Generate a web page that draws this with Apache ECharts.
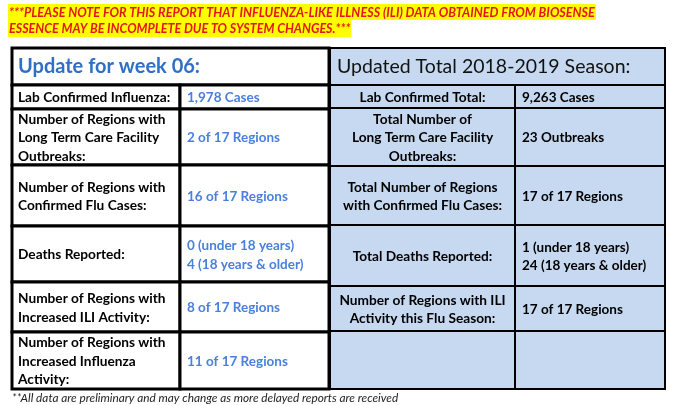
<!DOCTYPE html>
<html>
<head>
<meta charset="UTF-8"/>
<script src="https://cdn.jsdelivr.net/npm/echarts@6/dist/echarts.min.js"></script>
<style>
    html, body {margin: 0; padding: 0; background: #fff}
    #main {width: 676px; height: 405px}
</style>
</head>
<body>
<div id="main"></div>
<script>
    // texts / values
    var noteLines = [
        '***PLEASE NOTE FOR THIS REPORT THAT INFLUENZA-LIKE ILLNESS (ILI) DATA OBTAINED FROM BIOSENSE',
        'ESSENCE MAY BE INCOMPLETE DUE TO SYSTEM CHANGES.***'
    ]
    var footNote = '**All data are preliminary and may change as more delayed reports are received'

    var weekTitle = 'Update for week 06:'
    var weekLabels = [
        'Lab Confirmed Influenza:',
        'Number of Regions with\nLong Term Care Facility\nOutbreaks:',
        'Number of Regions with\nConfirmed Flu Cases:',
        'Deaths Reported:',
        'Number of Regions with\nIncreased ILI Activity:',
        'Number of Regions with\nIncreased Influenza\nActivity:'
    ]
    var weekValues = [
        '1,978 Cases',
        '2 of 17 Regions',
        '16 of 17 Regions',
        '0 (under 18 years)\n4 (18 years & older)',
        '8 of 17 Regions',
        '11 of 17 Regions'
    ]

    var seasonTitle = 'Updated Total 2018-2019 Season:'
    var seasonLabels = [
        'Lab Confirmed Total:',
        'Total Number of\nLong Term Care Facility\nOutbreaks:',
        'Total Number of Regions\nwith Confirmed Flu Cases:',
        'Total Deaths Reported:',
        'Number of Regions with ILI\nActivity this Flu Season:',
        ''
    ]
    var seasonValues = [
        '9,263 Cases',
        '23 Outbreaks',
        '17 of 17 Regions',
        '1 (under 18 years)\n24 (18 years & older)',
        '17 of 17 Regions',
        ''
    ]

    // layout (page units, same as the hidden axes)
    var leftCols = [12, 180, 329]
    var leftRows = [48, 85, 109, 165, 226, 282, 332, 389]
    var rightCols = [330, 515, 665]
    var rightRows = [48, 85, 108, 166, 225, 286, 331, 389]

    var FONT = 'Lato, "Open Sans", sans-serif'

    function tableRenderer(cols, rows, cfg) {
        return function (params, api) {
            var i = params.dataIndex
            var item = cfg.items[i]
            var tl = api.coord([cols[0], rows[i]])
            var br = api.coord([cols[2], rows[i + 1]])
            var mid = api.coord([cols[1], rows[i]])[0]
            var children = []
            if (i === 0) {
                children.push({
                    type: 'rect',
                    shape: {x: tl[0], y: tl[1], width: br[0] - tl[0], height: br[1] - tl[1]},
                    style: {fill: cfg.fill, stroke: '#000', lineWidth: cfg.lineWidth}
                })
                children.push({
                    type: 'text',
                    style: {
                        text: item.label, x: tl[0] + cfg.titlePad, y: (tl[1] + br[1]) / 2,
                        font: cfg.titleFont, fill: cfg.titleColor,
                        align: 'left', verticalAlign: 'middle'
                    }
                })
            } else {
                children.push({
                    type: 'rect',
                    shape: {x: tl[0], y: tl[1], width: mid - tl[0], height: br[1] - tl[1]},
                    style: {fill: cfg.fill, stroke: '#000', lineWidth: cfg.lineWidth}
                })
                children.push({
                    type: 'rect',
                    shape: {x: mid, y: tl[1], width: br[0] - mid, height: br[1] - tl[1]},
                    style: {fill: cfg.fill, stroke: '#000', lineWidth: cfg.lineWidth}
                })
                var cy = (tl[1] + br[1]) / 2 + 1
                children.push({
                    type: 'text',
                    style: {
                        text: item.label,
                        x: cfg.labelCenter ? (tl[0] + mid) / 2 : tl[0] + 6,
                        y: cy, font: 'bold 13.7px ' + FONT, fill: '#000', lineHeight: 18.5,
                        align: cfg.labelCenter ? 'center' : 'left', verticalAlign: 'middle'
                    }
                })
                children.push({
                    type: 'text',
                    style: {
                        text: item.value, x: mid + 7, y: cy,
                        font: 'bold 13.5px ' + FONT, fill: cfg.valueColor, lineHeight: 18.5,
                        align: 'left', verticalAlign: 'middle'
                    }
                })
            }
            return {type: 'group', children: children}
        }
    }

    function rowsOf(title, labels, values) {
        var items = [{label: title, value: ''}]
        for (var k = 0; k < labels.length; k++) items.push({label: labels[k], value: values[k]})
        return items
    }

    var weekItems = rowsOf(weekTitle, weekLabels, weekValues)
    var seasonItems = rowsOf(seasonTitle, seasonLabels, seasonValues)

    var myChart = echarts.init(document.getElementById('main'))
    var option = {
        animation: false,
        grid: {left: 0, right: 0, top: 0, bottom: 0},
        xAxis: {type: 'value', min: 0, max: 676, show: false},
        yAxis: {type: 'value', min: 0, max: 405, inverse: true, show: false},
        graphic: [
            {
                type: 'text', left: 8, top: 4,
                style: {
                    text: noteLines[0], font: 'italic bold 12.6px ' + FONT, fill: '#e3171b',
                    backgroundColor: '#ffff00', padding: [2, 1, 1, 1]
                }
            },
            {
                type: 'text', left: 8, top: 20,
                style: {
                    text: noteLines[1], font: 'italic bold 12.5px ' + FONT, fill: '#e3171b',
                    backgroundColor: '#ffff00', padding: [2, 1, 2, 1]
                }
            },
            {
                type: 'text', left: 12, top: 392,
                style: {text: footNote, font: 'italic 11.8px ' + FONT, fill: '#222'}
            }
        ],
        series: [
            {
                type: 'custom',
                coordinateSystem: 'cartesian2d',
                data: seasonItems.map(function (d, i) { return [i, i] }),
                renderItem: tableRenderer(rightCols, rightRows, {
                    items: seasonItems, fill: '#c6d9f1', lineWidth: 2, labelCenter: true,
                    titlePad: 7, titleFont: '19.5px ' + FONT, titleColor: '#111',
                    valueColor: '#000'
                })
            },
            {
                type: 'custom',
                coordinateSystem: 'cartesian2d',
                data: weekItems.map(function (d, i) { return [i, i] }),
                renderItem: tableRenderer(leftCols, leftRows, {
                    items: weekItems, fill: '#fff', lineWidth: 3, labelCenter: false,
                    titlePad: 6, titleFont: 'bold 20px ' + FONT, titleColor: '#2f6fc6',
                    valueColor: '#4a7fdc'
                })
            }
        ]
    }
    myChart.setOption(option)
</script>
</body>
</html>
